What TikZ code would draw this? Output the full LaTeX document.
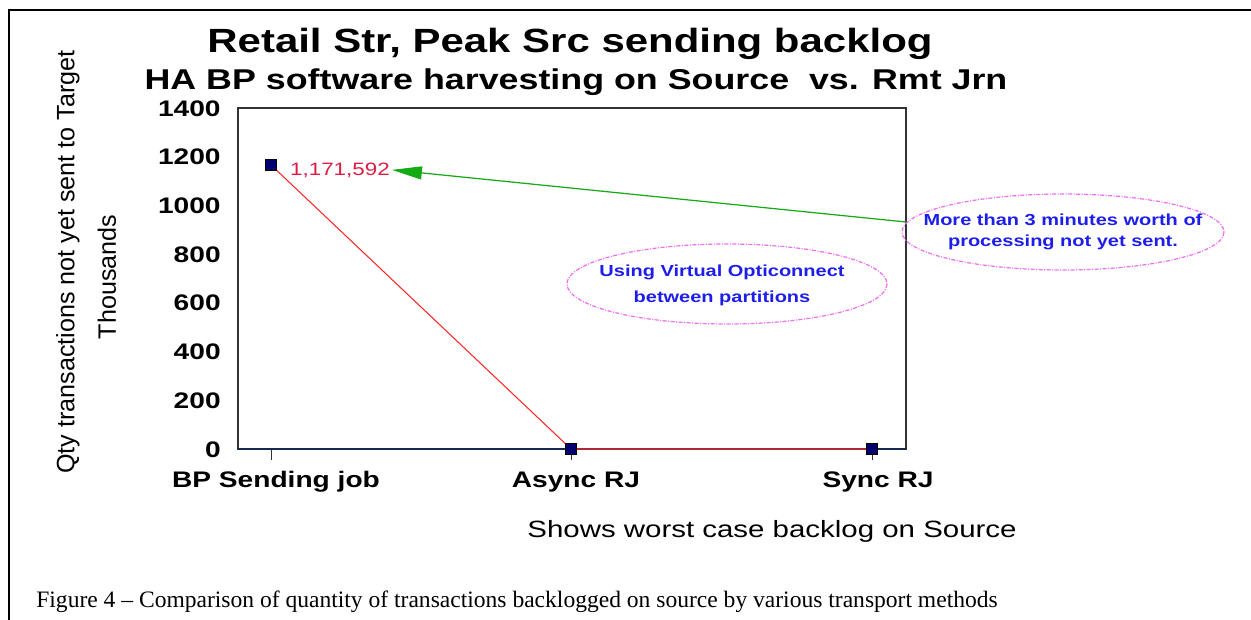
\documentclass[tikz,border=0pt]{standalone}
\usepackage{fontspec}
\setmainfont{Liberation Sans}
\newfontfamily\chartsans[FakeStretch=1.25]{Liberation Sans}
\newfontfamily\capserif{Liberation Serif}
\usetikzlibrary{arrows.meta}
\definecolor{markerblue}{RGB}{0,0,110}
\definecolor{axisnavy}{RGB}{20,40,80}
\definecolor{seriesred}{RGB}{255,40,40}
\definecolor{lblred}{RGB}{220,30,70}
\definecolor{arrowgreen}{RGB}{20,170,20}
\definecolor{notepink}{RGB}{240,110,240}
\definecolor{noteblue}{RGB}{30,30,235}

\begin{document}
\begin{tikzpicture}[x=0.2mm, y=-0.2mm]
    \tikzset{
        frame/.style={draw=black, line width=1.2pt},
        plotbox/.style={draw=black!80, line width=0.8pt},
        ticklabel/.style={anchor=base east, inner sep=0pt, font=\chartsans\bfseries\fontsize{12.8}{14}\selectfont},
        catlabel/.style={anchor=base, inner sep=0pt, font=\chartsans\bfseries\fontsize{12.8}{14}\selectfont},
        marker/.style={draw=black, fill=markerblue, minimum size=2.2mm, inner sep=0pt, line width=0.4pt},
        series/.style={draw=seriesred, line width=0.6pt},
        notetext/.style={inner sep=0pt, text=noteblue, align=center},
        noteoval/.style={draw=notepink, line width=0.7pt, dash pattern=on 0.8mm off 0.3mm on 0.2mm off 0.3mm},
        axistitle/.style={font=\fontsize{14.3}{16}\selectfont, rotate=90}
    }
    \useasboundingbox (0,0) rectangle (1251,620);
    \draw[frame] (1251,10) -- (9,10) -- (9,620);

    \node[anchor=base, font=\chartsans\bfseries\fontsize{19.1}{22}\selectfont] (title) at (570,52)
        {Retail Str, Peak Src sending backlog};
    \node[anchor=base, font=\chartsans\bfseries\fontsize{16.3}{18}\selectfont] (subtitle) at (576,90)
        {HA BP software harvesting on Source\ \ vs. Rmt Jrn};

    \draw[plotbox] (238,108) rectangle (906,449);
    \foreach \v in {0,200,...,1400}
        \node[ticklabel] at (221,{449-\v/1400*341+8}) {\v};
    \foreach \x in {271,571,872}
        \draw[black!80, line width=0.5pt] (\x,449) -- (\x,460);
    \draw[axisnavy, line width=0.8pt] (238,449) -- (906,449);

    \node[catlabel] (cat1) at (276,487) {BP Sending job};
    \node[catlabel] (cat2) at (576,487) {Async RJ};
    \node[catlabel] (cat3) at (878,487) {Sync RJ};

    \coordinate (p1) at (271,165);
    \coordinate (p2) at (571,449);
    \coordinate (p3) at (872,449);
    \draw[series] (p1) -- (p2) -- (p3);
    \node[marker] (m1) at (p1) {};
    \node[marker] (m2) at (p2) {};
    \node[marker] (m3) at (p3) {};

    \node[anchor=base west, inner sep=1pt, text=lblred, font=\chartsans\fontsize{10.2}{12}\selectfont] (peaklbl)
        at (288,175) {1,171,592};

    \node[notetext, font=\chartsans\bfseries\fontsize{9.1}{11.7}\selectfont]
        (note1) at (1063,232) {More than 3 minutes worth of\\processing not yet sent.};
    \draw[noteoval] (note1) ellipse [x radius=161, y radius=38];
    \node[notetext, font=\chartsans\bfseries\fontsize{9.1}{14.8}\selectfont]
        (note2) at (722,285) {Using Virtual Opticonnect\\between partitions};
    \draw[noteoval] (727,284) ellipse [x radius=160, y radius=40];
    \coordinate (note1tip) at (906,222);
    \draw[draw=arrowgreen, line width=0.7pt, -{Triangle[length=6mm, width=2.6mm]}] (note1tip) -- (peaklbl.east);

    \node[axistitle] (ytitle) at (68,262) {Qty transactions not yet sent to Target};
    \node[axistitle] (yunit) at (107,277) {Thousands};
    \node[anchor=base, font=\chartsans\fontsize{13.4}{16}\selectfont] (xtitle) at (772,537)
        {Shows worst case backlog on Source};

    \node[anchor=base west, inner sep=0pt, font=\capserif\fontsize{13.4}{16}\selectfont] (caption) at (36,607)
        {Figure 4 – Comparison of quantity of transactions backlogged on source by various transport methods};
\end{tikzpicture}
\end{document}
